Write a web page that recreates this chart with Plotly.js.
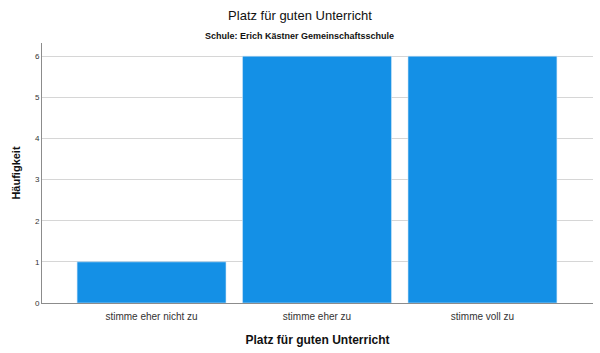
<!DOCTYPE html>
<html>
<head>
<meta charset="utf-8">
<script src="https://cdn.plot.ly/plotly-3.0.1.min.js"></script>
<style>html,body{margin:0;padding:0;background:#fff;}#chart{width:600px;height:353px;}</style>
</head>
<body>
<div id="chart"></div>
<script>
const categories = ["stimme eher nicht zu", "stimme eher zu", "stimme voll zu"];
const counts = [1, 6, 6];
const yTicks = [0, 1, 2, 3, 4, 5, 6];

const trace = {
  type: "bar",
  x: categories,
  y: counts,
  width: 0.9,
  marker: {color: "#1490E6", line: {color: "#cfe6f8", width: 0.6}},
  hoverinfo: "x+y"
};

const layout = {
  width: 600,
  height: 353,
  margin: {l: 42, r: 7, t: 43, b: 50},
  paper_bgcolor: "#ffffff",
  plot_bgcolor: "#ffffff",
  font: {family: "Liberation Sans, Arial, sans-serif", color: "#222"},
  showlegend: false,
  title: {
    text: "Platz für guten Unterricht",
    font: {size: 13, color: "#111"},
    x: 0.5, xanchor: "center",
    y: 0.955, yanchor: "middle", yref: "container"
  },
  annotations: [{
    text: "<b>Schule: Erich Kästner Gemeinschaftsschule</b>",
    xref: "paper", yref: "paper",
    x: 0.468, xanchor: "center",
    y: 1.027, yanchor: "middle",
    showarrow: false,
    font: {size: 9, color: "#111"}
  }],
  xaxis: {
    type: "category",
    range: [-0.662, 2.668],
    showline: true, linecolor: "#8c8c8c", linewidth: 1,
    showgrid: false, zeroline: false,
    ticks: "outside", ticklen: 4, tickcolor: "rgba(0,0,0,0)",
    tickfont: {size: 10, color: "#333"},
    title: {text: "<b>Platz für guten Unterricht</b>", font: {size: 12, color: "#111"}, standoff: 14}
  },
  yaxis: {
    range: [0, 6.32],
    tickvals: yTicks,
    showline: true, linecolor: "#8c8c8c", linewidth: 1,
    showgrid: true, gridcolor: "#d6d6d6", gridwidth: 1,
    zeroline: false,
    ticks: "",
    tickfont: {size: 8, color: "#333"},
    title: {text: "<b>Häufigkeit</b>", font: {size: 11, color: "#111"}, standoff: 12}
  }
};

Plotly.newPlot("chart", [trace], layout, {staticPlot: true, displayModeBar: false});
</script>
</body>
</html>
